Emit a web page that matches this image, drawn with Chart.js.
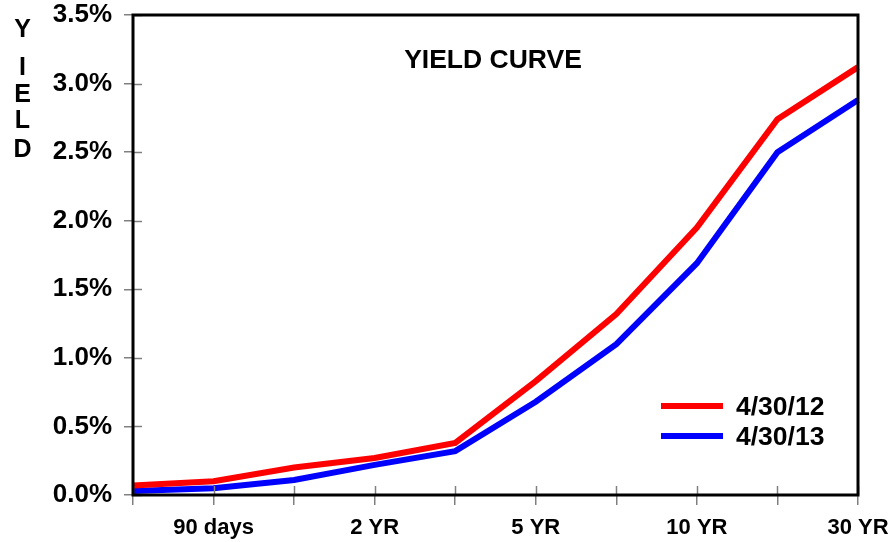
<!DOCTYPE html>
<html>
<head>
<meta charset="utf-8">
<script src="https://cdn.jsdelivr.net/npm/chart.js@4.4.1/dist/chart.umd.min.js"></script>
<style>
  html, body { margin: 0; padding: 0; background: #ffffff; }
  #wrap { position: relative; width: 890px; height: 542px; }
</style>
</head>
<body>
<div id="wrap"><canvas id="c" width="890" height="542"></canvas></div>
<script>
// ---- data ----
const categories = ['', '90 days', '', '2 YR', '', '5 YR', '', '10 YR', '', '30 YR'];
const seriesLabels = ['4/30/12', '4/30/13'];
const yields2012 = [0.07, 0.10, 0.20, 0.27, 0.38, 0.83, 1.32, 1.95, 2.74, 3.12];
const yields2013 = [0.03, 0.05, 0.11, 0.22, 0.32, 0.68, 1.10, 1.69, 2.50, 2.88];
const yTicks = [0, 0.5, 1.0, 1.5, 2.0, 2.5, 3.0, 3.5];
const chartTitle = 'YIELD CURVE';
const yTitleLetters = ['Y', 'I', 'E', 'L', 'D'];

const FONT = '"Liberation Sans", Arial, sans-serif';

const framePlugin = {
  id: 'frame',
  afterDatasetsDraw(chart) {
    const ctx = chart.ctx;
    const a = chart.chartArea;
    const xs = chart.scales.x, ys = chart.scales.y;
    ctx.save();
    // inward tick parts
    ctx.strokeStyle = '#808080';
    ctx.lineWidth = 1.5;
    ys.ticks.forEach((t, i) => {
      const py = Math.round(ys.getPixelForTick(i)) + 0.5;
      ctx.beginPath(); ctx.moveTo(a.left, py); ctx.lineTo(a.left + 9, py); ctx.stroke();
    });
    xs.ticks.forEach((t, i) => {
      const px = Math.round(xs.getPixelForTick(i)) + 0.5;
      ctx.beginPath(); ctx.moveTo(px, a.bottom); ctx.lineTo(px, a.bottom - 9); ctx.stroke();
    });
    // frame
    ctx.strokeStyle = '#000000';
    ctx.lineWidth = 3;
    ctx.strokeRect(a.left, a.top, a.right - a.left, a.bottom - a.top);
    // title
    ctx.fillStyle = '#000000';
    ctx.font = 'bold 26.5px ' + FONT;
    ctx.textAlign = 'center';
    ctx.textBaseline = 'middle';
    ctx.fillText(chartTitle, 493, 61);
    // legend
    const legendY = [406, 436];
    chart.data.datasets.forEach((ds, i) => {
      ctx.strokeStyle = ds.borderColor;
      ctx.lineWidth = 6;
      ctx.lineCap = 'butt';
      ctx.beginPath(); ctx.moveTo(661, legendY[i]); ctx.lineTo(723, legendY[i]); ctx.stroke();
      ctx.fillStyle = '#000000';
      ctx.font = 'bold 26.5px ' + FONT;
      ctx.textAlign = 'left';
      ctx.textBaseline = 'middle';
      ctx.fillText(ds.label, 736, legendY[i] + 2);
    });
    // vertical y title
    const letterY = [29, 67, 94, 120, 149];
    ctx.font = 'bold 25px ' + FONT;
    ctx.textAlign = 'center';
    ctx.textBaseline = 'middle';
    yTitleLetters.forEach((ch, i) => ctx.fillText(ch, 22.5, letterY[i] + 1));
    ctx.restore();
  }
};

new Chart(document.getElementById('c'), {
  type: 'line',
  data: {
    labels: categories,
    datasets: [
      { label: seriesLabels[0], data: yields2012, borderColor: '#ff0000', borderWidth: 6, pointRadius: 0, tension: 0, fill: false },
      { label: seriesLabels[1], data: yields2013, borderColor: '#0000ff', borderWidth: 6, pointRadius: 0, tension: 0, fill: false }
    ]
  },
  options: {
    responsive: false,
    animation: false,
    devicePixelRatio: 1,
    layout: { padding: { top: 15, right: 32, left: 0, bottom: 0 } },
    plugins: { legend: { display: false }, title: { display: false }, tooltip: { enabled: false } },
    scales: {
      x: {
        type: 'category',
        offset: false,
        border: { display: false },
        grid: { display: true, drawOnChartArea: false, drawTicks: true, tickLength: 10, color: '#808080', lineWidth: 1.5 },
        ticks: {
          autoSkip: false, maxRotation: 0, minRotation: 0, padding: 10,
          color: '#000000', font: { family: FONT, size: 22, weight: 'bold' }
        },
        afterFit(s) { s.height = 47; s.paddingLeft = 0; s.paddingRight = 0; }
      },
      y: {
        min: 0, max: 3.5,
        border: { display: false },
        afterBuildTicks(s) { s.ticks = yTicks.map(v => ({ value: v })); },
        grid: { display: true, drawOnChartArea: false, drawTicks: true, tickLength: 9, color: '#808080', lineWidth: 1.5 },
        ticks: {
          padding: 12,
          color: '#000000',
          font: { family: FONT, size: 26, weight: 'bold' },
          callback: v => Number(v).toFixed(1) + '%'
        },
        afterFit(s) { s.width = 133; s.paddingTop = 0; s.paddingBottom = 0; }
      }
    }
  },
  plugins: [framePlugin]
});
</script>
</body>
</html>
